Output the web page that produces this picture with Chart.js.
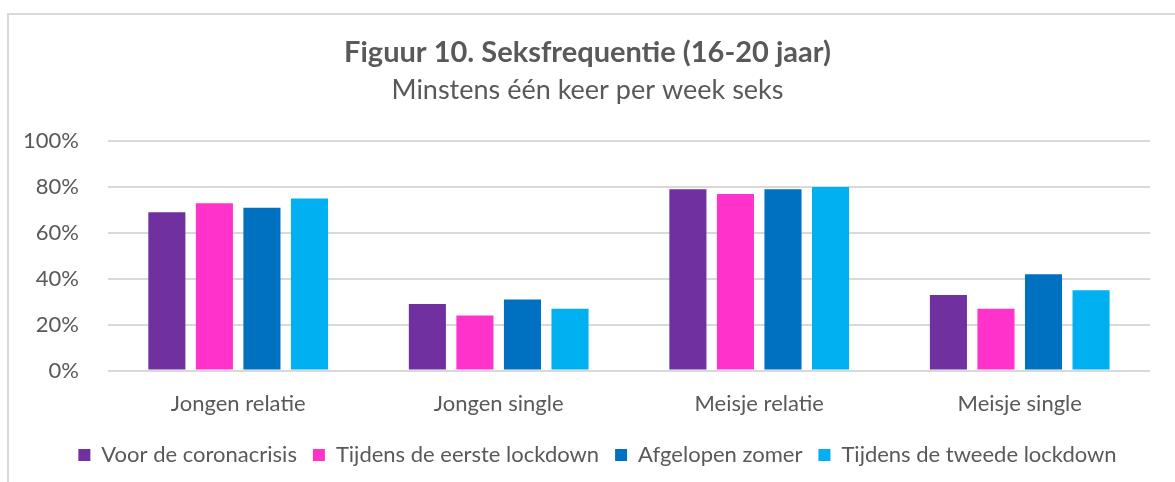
<!DOCTYPE html>
<html>
<head>
<meta charset="utf-8">
<script src="https://cdn.jsdelivr.net/npm/chart.js@4"></script>
<style>
  html, body { margin: 0; padding: 0; background: #fff; overflow: hidden; }
  #kader { position: absolute; left: 7px; top: 13px; width: 1200px; height: 500px; border: 2px solid #d9d9d9; }
  #wrap { position: absolute; left: 0; top: 0; width: 1175px; height: 482px; }
</style>
</head>
<body>
<div id="kader"></div>
<div id="wrap"><canvas id="grafiek"></canvas></div>
<script>
// categorieën en reeksen (percentages)
const categorieen = ['Jongen relatie', 'Jongen single', 'Meisje relatie', 'Meisje single'];
const reeksNamen = ['Voor de coronacrisis', 'Tijdens de eerste lockdown', 'Afgelopen zomer', 'Tijdens de tweede lockdown'];
const voorCorona = [69, 29, 79, 33];
const eersteLockdown = [73, 24, 77, 27];
const afgelopenZomer = [71, 31, 79, 42];
const tweedeLockdown = [75, 27, 80, 35];
const kleuren = ['#7030A0', '#FF33CC', '#0070C0', '#00B0F0'];
const yTicks = [0, 20, 40, 60, 80, 100];

const lettertype = 'Lato, "Noto Sans", sans-serif';
const tekstKleur = '#595959';

const reeksen = [voorCorona, eersteLockdown, afgelopenZomer, tweedeLockdown];

// geen ligaturen (Lato maakt anders van "ti" één teken) + legenda iets naar rechts
const kleineFixes = {
    id: 'kleineFixes',
    beforeInit(chart) { chart.ctx.textRendering = 'optimizeSpeed'; },
    afterLayout(chart) {
        chart.legend.left += 10;
        chart.legend.right += 10;
    }
};

document.addEventListener('DOMContentLoaded', function () {
    const ctx = document.getElementById('grafiek').getContext('2d');
    new Chart(ctx, {
        type: 'bar',
        plugins: [kleineFixes],
        data: {
            labels: categorieen,
            datasets: reeksen.map((waarden, i) => ({
                label: reeksNamen[i],
                data: waarden,
                backgroundColor: kleuren[i],
                borderWidth: 0,
                categoryPercentage: 0.73,
                barPercentage: 0.78
            }))
        },
        options: {
            responsive: true,
            maintainAspectRatio: false,
            animation: false,
            layout: { padding: { top: 26, left: 0, right: 0, bottom: 6 } },
            plugins: {
                title: {
                    display: true,
                    text: 'Figuur 10. Seksfrequentie (16-20 jaar)',
                    color: tekstKleur,
                    font: { family: lettertype, size: 29, weight: 'bold' },
                    padding: { top: 9, bottom: 4 }
                },
                subtitle: {
                    display: true,
                    text: 'Minstens één keer per week seks',
                    color: tekstKleur,
                    font: { family: lettertype, size: 27 },
                    padding: { top: 0, bottom: 35 }
                },
                legend: {
                    position: 'bottom',
                    labels: {
                        color: tekstKleur,
                        font: { family: lettertype, size: 22 },
                        boxWidth: 12,
                        boxHeight: 12,
                        padding: 16
                    }
                },
                tooltip: { enabled: false }
            },
            scales: {
                x: {
                    grid: { display: false },
                    border: { display: false },
                    ticks: { color: tekstKleur, font: { family: lettertype, size: 22 }, padding: 12 },
                    afterFit: function (as) { as.height -= 1; }
                },
                y: {
                    min: 0,
                    max: 100,
                    afterBuildTicks: function (as) { as.ticks = yTicks.map(v => ({ value: v })); },
                    grid: { color: '#d9d9d9', lineWidth: 2, drawTicks: false },
                    border: { display: false },
                    ticks: {
                        color: tekstKleur,
                        font: { family: lettertype, size: 22 },
                        padding: 29,
                        callback: v => v + '%'
                    },
                    afterFit: function (as) { as.width -= 6; }
                },
                // lege as rechts: alleen ruimte naast het plotvlak
                rechts: {
                    position: 'right',
                    grid: { display: false },
                    border: { display: false },
                    ticks: { display: false },
                    afterFit: function (as) { as.width = 25; }
                }
            }
        }
    });
});
</script>
</body>
</html>
